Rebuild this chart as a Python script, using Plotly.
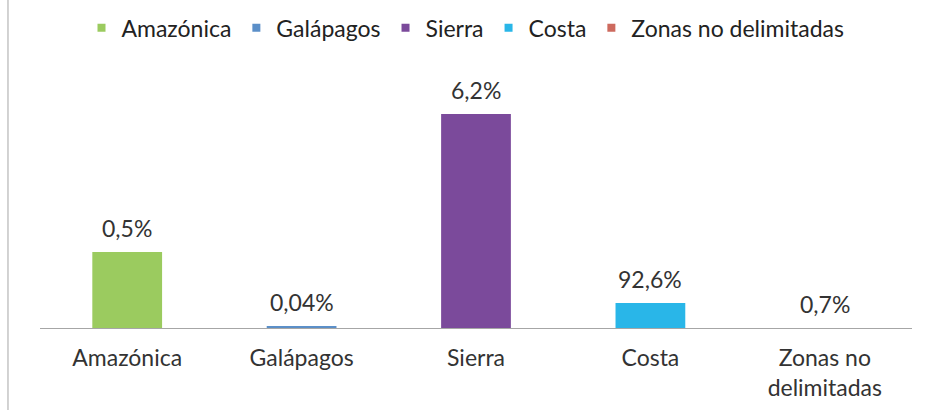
import plotly.graph_objects as go

categories = ["Amazónica", "Galápagos", "Sierra", "Costa", "Zonas no delimitadas"]
tick_labels = ["Amazónica", "Galápagos", "Sierra", "Costa", "Zonas no<br>delimitadas"]
bar_values = [76, 2, 214, 25, 0]
value_labels = ["0,5%", "0,04%", "6,2%", "92,6%", "0,7%"]
colors = ["#9BCB5F", "#5B8FC8", "#7B4A9B", "#29B6E8", "#CD6A5E"]

FONT = "Lato"
FS = 23

fig = go.Figure()
for cat, tl, v, c in zip(categories, tick_labels, bar_values, colors):
    fig.add_trace(go.Bar(
        x=[tl], y=[v], name=cat, marker=dict(color=c, line=dict(width=0)),
        width=0.4, showlegend=False, hoverinfo="skip",
    ))
for cat, c in zip(categories, colors):
    fig.add_trace(go.Scatter(
        x=[None], y=[None], mode="markers", name=cat,
        marker=dict(symbol="square", size=8, color=c), showlegend=True,
    ))

for tl, v, lab in zip(tick_labels, bar_values, value_labels):
    fig.add_annotation(x=tl, y=v, text=lab, showarrow=False, yanchor="bottom",
                       yshift=8, font=dict(family=FONT, size=FS, color="#333333"))

fig.add_shape(type="line", xref="paper", yref="paper",
              x0=-0.0367, x1=-0.0367, y0=-0.31, y1=1.23,
              line=dict(color="#A6A6A6", width=1))

fig.update_layout(
    width=931, height=410,
    margin=dict(l=40, r=19, t=60, b=82, autoexpand=False),
    paper_bgcolor="white", plot_bgcolor="white",
    barmode="overlay",
    font=dict(family=FONT, size=FS, color="#333333"),
    legend=dict(orientation="h", x=0.5, xanchor="center", xref="container",
                y=0.932, yanchor="middle", yref="container",
                font=dict(family=FONT, size=FS, color="#222222"),
                itemwidth=30, traceorder="normal", tracegroupgap=0),
    xaxis=dict(showline=True, linecolor="#A6A6A6", linewidth=1, ticks="",
               showgrid=False, tickfont=dict(family=FONT, size=FS, color="#333333"),
               ticklabelstandoff=9, automargin=False),
    yaxis=dict(range=[0, 268], visible=False, showgrid=False, zeroline=False),
)

fig.write_html("out.html", config={"displayModeBar": False},
               post_script="document.body.style.margin='0';")
